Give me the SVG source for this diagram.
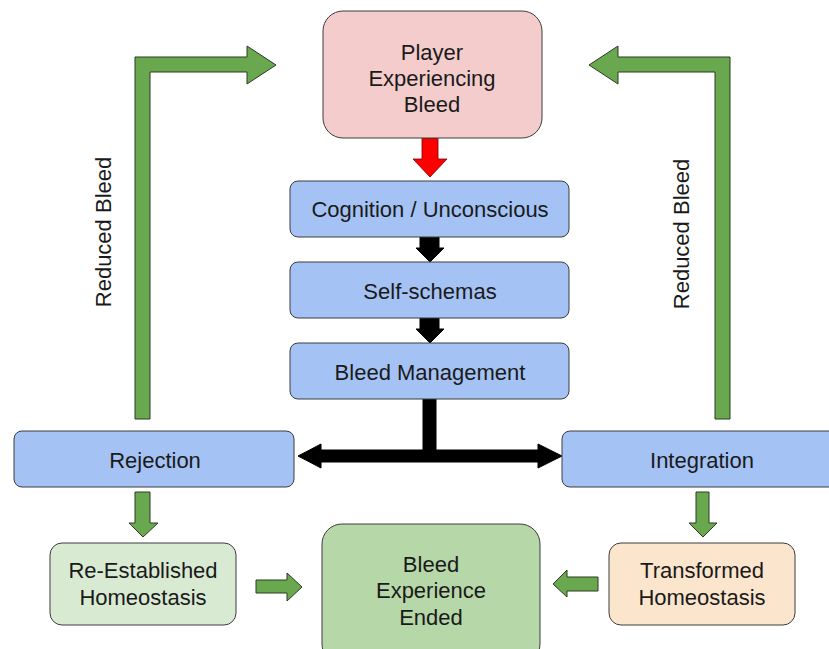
<svg xmlns="http://www.w3.org/2000/svg" width="829" height="649" viewBox="0 0 829 649">
<style>
.box{stroke:#3c3c3c;stroke-width:1}
.blue{fill:#a4c2f4}
.t{font-family:"Liberation Sans",Arial,sans-serif;font-size:22px;fill:#1a1a1a;text-anchor:middle;dominant-baseline:central}
.g{fill:#6aa84f;stroke:#2b3a22;stroke-width:1}
.k{fill:#000;stroke:#000;stroke-width:1}
</style>
<rect width="829" height="649" fill="#fff"/>
<g id="connectors">
<path class="g" d="M135,419 V57 H247 V46 L276,65 L247,84 V72 H150 V419 Z"/>
<path class="g" d="M730,419 V57 H618 V46 L589,65 L618,84 V72 H715 V419 Z"/>
<path d="M422,138 H438 V159 H447 L430,177 L413,159 H422 Z" fill="#ff0000" stroke="#7a0000" stroke-width="0.8"/>
<path class="k" d="M420,237 H439 V248 H444 L430,262 L416,248 H420 Z"/>
<path class="k" d="M420,318 H439 V329 H444 L430,343 L416,329 H420 Z"/>
<path class="k" d="M423,399 H436 V450 H538 V444 L562,456 L538,468 V462 H321 V468 L298,456 L321,444 V450 H423 Z"/>
<path class="g" d="M135,492 H150 V523 H158 L143,537 L129,523 H135 Z"/>
<path class="g" d="M696,492 H709 V523 H717 L703,537 L689,523 H696 Z"/>
<path class="g" d="M256,580 H287 V573 L302,587 L287,601 V593 H256 Z"/>
<path class="g" d="M598,577 H567 V570 L553,584 L567,597 V591 H598 Z"/>
<text class="t" transform="translate(103,232) rotate(-90)">Reduced Bleed</text>
<text class="t" transform="translate(681,234) rotate(-90)">Reduced Bleed</text>
</g>
<g id="player">
<rect class="box" x="323" y="11" width="219" height="127" rx="20" fill="#f4cccc"/>
<text class="t" x="432" y="52">Player</text>
<text class="t" x="432" y="78">Experiencing</text>
<text class="t" x="432" y="104">Bleed</text>
</g>
<g id="cognition">
<rect class="box blue" x="290" y="181" width="279" height="56" rx="8"/>
<text class="t" x="430" y="209">Cognition / Unconscious</text>
</g>
<g id="selfschemas">
<rect class="box blue" x="290" y="262" width="279" height="56" rx="8"/>
<text class="t" x="430" y="291">Self-schemas</text>
</g>
<g id="bleedmanagement">
<rect class="box blue" x="290" y="343" width="279" height="56" rx="8"/>
<text class="t" x="430" y="372">Bleed Management</text>
</g>
<g id="rejection">
<rect class="box blue" x="14" y="431" width="280" height="56" rx="8"/>
<text class="t" x="155" y="460">Rejection</text>
</g>
<g id="integration">
<rect class="box blue" x="562" y="431" width="280" height="56" rx="8"/>
<text class="t" x="702" y="460">Integration</text>
</g>
<g id="reestablished">
<rect class="box" x="50" y="543" width="186" height="82" rx="12" fill="#d9ead3"/>
<text class="t" x="143" y="570">Re-Established</text>
<text class="t" x="143" y="597">Homeostasis</text>
</g>
<g id="ended">
<rect class="box" x="322" y="524" width="218" height="140" rx="20" fill="#b6d7a8"/>
<text class="t" x="431" y="564">Bleed</text>
<text class="t" x="431" y="590">Experience</text>
<text class="t" x="431" y="617">Ended</text>
</g>
<g id="transformed">
<rect class="box" x="609" y="543" width="186" height="82" rx="12" fill="#fce5cd"/>
<text class="t" x="702" y="570">Transformed</text>
<text class="t" x="702" y="597">Homeostasis</text>
</g>
</svg>
